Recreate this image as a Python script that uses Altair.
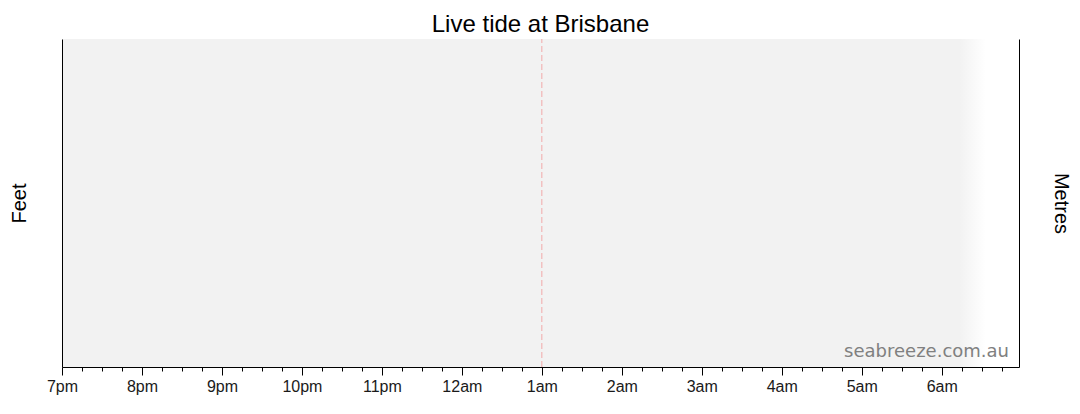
import altair as alt
import pandas as pd

# ---- data ----
TITLE = "Live tide at Brisbane"
AXIS_START = "2024-01-01T19:00:00Z"
AXIS_END = "2024-01-02T06:58:00Z"
SHADE_START = ["2024-01-01T19:00:00Z"]
SHADE_END = ["2024-01-02T06:33:00Z"]
NOW_TIME = ["2024-01-02T01:00:00Z"]
WATERMARK = "seabreeze.com.au"

W, H = 957, 328

def ms(s):
    return int(pd.Timestamp(s).value // 10**6)

tick_values = [ms(t) for t in pd.date_range("2024-01-01T19:00:00Z", "2024-01-02T06:45:00Z", freq="15min")]
x_scale = alt.Scale(type="utc", domain=[ms(AXIS_START), ms(AXIS_END)], nice=False)

shade_df = pd.DataFrame({"start": SHADE_START, "end": SHADE_END, "lo": [0], "hi": [1]})
now_df = pd.DataFrame({"t": NOW_TIME, "lo": [0], "hi": [1]})
wm_df = pd.DataFrame({"label": [WATERMARK]})

x_axis = alt.Axis(
    values=tick_values,
    labelExpr="utcminutes(datum.value) == 0 ? lower(utcFormat(datum.value, '%-I%p')) : ''",
    tickSize={"condition": {"test": "utcminutes(datum.value) == 0", "value": 8}, "value": 4},
    tickColor="black",
    domainColor="black",
    labelColor="#1a1a1a",
    labelFont="Liberation Sans",
    labelFontSize=16,
    labelPadding=3,
    labelFlush=False,
    grid=False,
    title=None,
    zindex=1,
)

shade = alt.Chart(shade_df).mark_rect(
    color=alt.LinearGradient(
        gradient="linear",
        stops=[
            alt.GradientStop(color="#f2f2f2", offset=0),
            alt.GradientStop(color="#f2f2f2", offset=0.972),
            alt.GradientStop(color="#ffffff", offset=1),
        ],
        x1=0, x2=1, y1=0, y2=0,
    )
).encode(
    x=alt.X("start:T", scale=x_scale, axis=x_axis),
    x2="end:T",
    y=alt.Y("lo:Q", scale=alt.Scale(domain=[0, 1]),
            axis=alt.Axis(labels=False, ticks=False, grid=False, domainColor="black",
                          title="Feet", titleFont="Liberation Sans", titleFontSize=20,
                          titleFontWeight="normal", titleColor="black", titlePadding=33,
                          zindex=1)),
    y2="hi:Q",
)

now_rule = alt.Chart(now_df).mark_rule(
    color="#f2a9a9", strokeDash=[6, 3], strokeWidth=1
).encode(
    x=alt.X("t:T", scale=x_scale, axis=x_axis),
    y=alt.Y("lo:Q", scale=alt.Scale(domain=[0, 1]),
            axis=alt.Axis(orient="right", labels=False, ticks=False, grid=False, domainColor="black",
                          title="Metres", titleFont="Liberation Sans", titleFontSize=20,
                          titleFontWeight="normal", titleColor="black", titlePadding=31,
                          titleAngle=90, zindex=1)),
    y2="hi:Q",
)

watermark = alt.Chart(wm_df).mark_text(
    font="DejaVu Sans", fontSize=18, color="#808080", align="right", baseline="alphabetic"
).encode(
    text="label:N",
    x=alt.value(W - 10),
    y=alt.value(H - 10),
)

chart = alt.layer(shade, now_rule, watermark).resolve_scale(y="independent").properties(
    width=W,
    height=H,
    autosize="none",
    padding={"left": 54, "top": 31, "right": 53, "bottom": 47},
    title=alt.TitleParams(TITLE, font="Liberation Sans", fontSize=24, fontWeight="normal",
                          color="black", anchor="middle", offset=2),
).configure_view(stroke=None).configure_axisX(domainWidth=1)

chart.save("out.html", embed_options={"renderer": "svg", "actions": False})
